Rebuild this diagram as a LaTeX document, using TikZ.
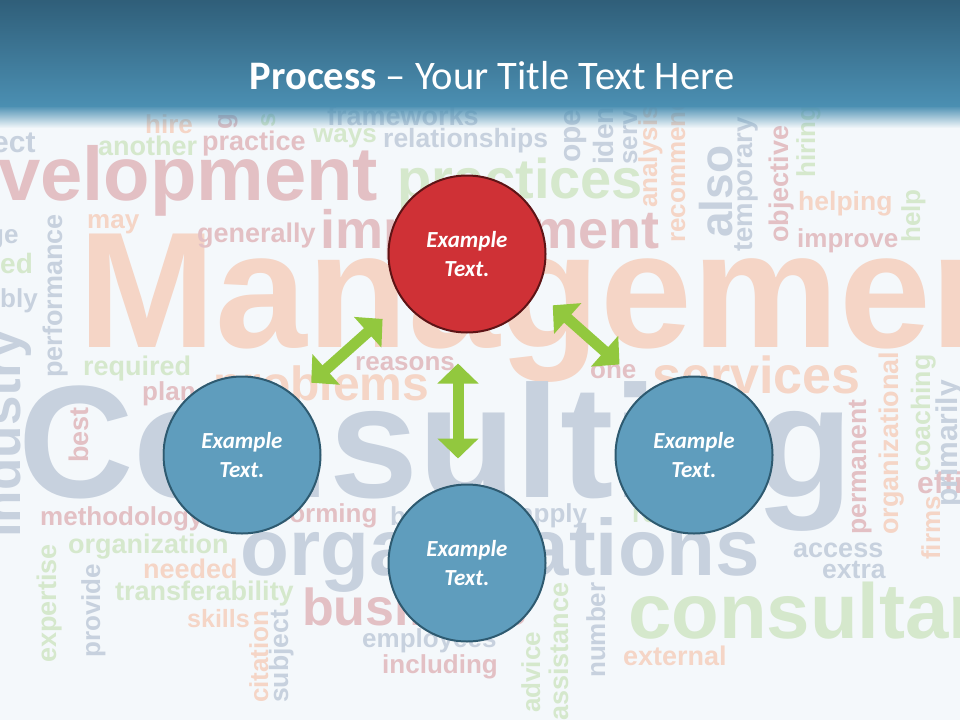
\documentclass[tikz,border=0pt]{standalone}
\usepackage{fontspec}
\usetikzlibrary{arrows.meta,fadings}
\newfontfamily\cloudfont{Liberation Sans}
\newfontfamily\slidefont{Carlito}
\definecolor{cloudpeach}{RGB}{245,213,198}
\definecolor{cloudpink}{RGB}{227,192,196}
\definecolor{cloudgreen}{RGB}{213,232,204}
\definecolor{cloudblue}{RGB}{199,209,222}
\definecolor{slidebg}{RGB}{244,248,251}
\definecolor{bandtop}{RGB}{45,90,116}
\definecolor{bandbot}{RGB}{75,143,178}
\definecolor{ballred}{RGB}{207,49,54}
\definecolor{ballredline}{RGB}{94,20,22}
\definecolor{ballblue}{RGB}{95,157,189}
\definecolor{ballblueline}{RGB}{46,90,112}
\definecolor{arrowgreen}{RGB}{146,200,62}
\tikzfading[name=bandfade, top color=transparent!0, bottom color=transparent!100]

\begin{document}
\begin{tikzpicture}[x=1pt, y=-1pt,
  word/.style={inner sep=0, anchor=base west, font=\cloudfont\bfseries\fontsize{#1}{#1}\selectfont},
  ball/.style={circle, minimum size=157pt, line width=2pt, text=white, align=center,
    font=\slidefont\bfseries\itshape\fontsize{23}{29}\selectfont},
  dbl/.style={arrowgreen, line width=11pt, {Triangle[length=20pt,width=40pt]}-{Triangle[length=20pt,width=40pt]}}]
\useasboundingbox (0,0) rectangle (960,720);
\clip (0,0) rectangle (960,720);
\fill[slidebg] (0,0) rectangle (960,720);

% word cloud, horizontal
\foreach \x/\y/\s/\w in {78/347/165/Management, 145/133/26/hire, 87/228/26/may, 798/210/26.5/helping,
  213/400/48/problems, 652/393/52/services, 143/578/27/needed, 187/627/25/skills, 623/665/27/external}
  \node[word=\s, text=cloudpeach] (\w) at (\x,\y) {\w};
\foreach \x/\y/\s/\w in {-2/200/76/velopment, 202/150/27/practice, 197/242/27/generally, 320/248/54/improvement,
  797/247/26/improve, 142/400/26/plan, 355/370/26/reasons, 590/378/26/one, 40/525/26/methodology,
  240/522/26/performing, 302/625/52/business, 382/673/26/including, 917/493/30/efficient}
  \node[word=\s, text=cloudpink] (\w) at (\x,\y) {\w};
\foreach \x/\y/\s/\w in {98/155/27/another, 313/142/26/ways, 397/198/56/practices, 83/375/27/required,
  68/553/27/organization, 115/600/27/transferability, 628/638/78/consultant, 632/522/26/re, 0/273/28/ed}
  \node[word=\s, text=cloudgreen] (\w) at (\x,\y) {\w};
\foreach \x/\y/\s/\w in {18/497/160/Consulting, -8/152/30/ect, 327/125/27/frameworks, 383/147/26.5/relationships,
  -12/243/26/ge, 0/307/26/bly, 240/575/80/organizations, 390/525/26/by, 519/522/26/apply,
  362/647/26/employees, 793/557/27/access, 822/578/26.5/extra}
  \node[word=\s, text=cloudblue] (\w) at (\x,\y) {\w};

% word cloud, vertical
\foreach \x/\y/\s/\w in {657/208/26/analysis, 685/243/26/recommend, 898/535/27/organizational,
  268/703/26/citation, 940/560/26/firms}
  \node[word=\s, rotate=90, text=cloudpeach] (\w) at (\x,\y) {\w};
\foreach \x/\y/\s/\w in {232/130/26/g, 88/463/27/best, 788/243/27/objective, 866/535/26.5/permanent}
  \node[word=\s, rotate=90, text=cloudpink] (\w) at (\x,\y) {\w};
\foreach \x/\y/\s/\w in {275/128/26/s, 815/178/26/hiring, 920/243/26/help, 930/472/26.7/coaching,
  56/663/27/expertise, 540/713/26/advice, 568/721/27/assistance}
  \node[word=\s, rotate=90, text=cloudgreen] (\w) at (\x,\y) {\w};
\foreach \x/\y/\s/\w in {580/163/30/ope, 613/165/28/iden, 637/165/26/serv, 732/238/46/also,
  752/252/27.5/temporary, 62/378/27/performance, 20/538/53/industry, 957/507/30/primarily,
  100/658/26/provide, 288/703/26.5/subject, 605/678/26/number}
  \node[word=\s, rotate=90, text=cloudblue] (\w) at (\x,\y) {\w};

% title band
\shade[top color=bandtop, bottom color=bandbot] (-10,-10) rectangle (970,106);
\fill[bandbot, path fading=bandfade] (-10,105.5) rectangle (970,128);
\node[anchor=base, text=white, font=\slidefont\fontsize{40.5}{40.5}\selectfont] (title) at (492,89)
  {\textbf{Process} – Your Title Text Here};

\node[ball, fill=ballred, draw=ballredline] (redtop) at (467,254) {Example\\Text.};
\node[ball, fill=ballblue, draw=ballblueline] (blueleft) at (242,455) {Example\\Text.};
\node[ball, fill=ballblue, draw=ballblueline] (blueright) at (694,455) {Example\\Text.};
\node[ball, fill=ballblue, draw=ballblueline] (bluebottom) at (467,563) {Example\\Text.};

\draw[dbl, shorten <=20pt, shorten >=27pt, transform canvas={shift={(-5,-6)}}] (blueleft) -- (redtop);
\draw[dbl, shorten <=30pt, shorten >=25pt, transform canvas={shift={(-9,0)}}] (redtop) -- (bluebottom);
\draw[dbl, shorten <=19pt, shorten >=36pt, transform canvas={shift={(12,-14)}}] (redtop) -- (blueright);
\end{tikzpicture}
\end{document}
